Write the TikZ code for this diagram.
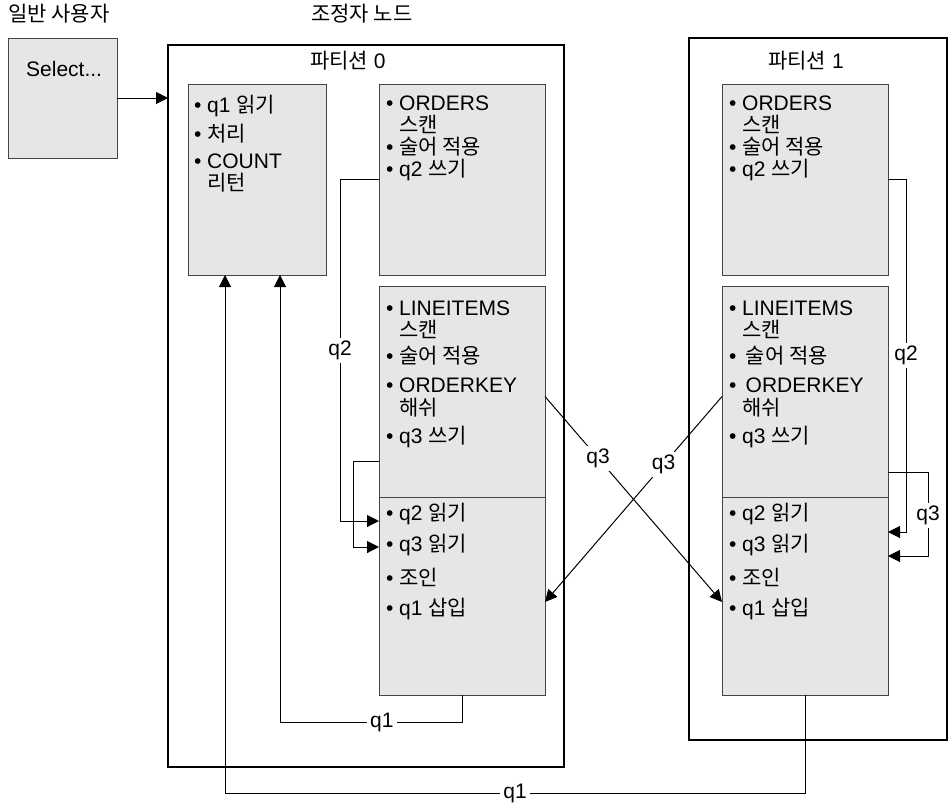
\documentclass[tikz,border=0pt]{standalone}
\usepackage{fontspec}
\setmainfont{Liberation Sans}
\newfontfamily\krfont{Noto Sans CJK KR}
\usetikzlibrary{arrows.meta,positioning}
\newcommand{\kr}[1]{{\krfont #1}}
\newcommand{\bul}{\makebox[13pt][l]{\textbullet}}
\newcommand{\ind}{\hspace*{13pt}}
\newcommand{\opfont}{\fontsize{21}{20}\selectfont\lineskiplimit=-50pt\relax}
\definecolor{boxgray}{HTML}{E6E6E6}
\definecolor{edgegray}{HTML}{444444}
\tikzset{
  partbox/.style={draw,line width=2pt,anchor=north west,inner sep=0pt,outer sep=0pt},
  opbox/.style={draw=edgegray,fill=boxgray,line width=1pt,anchor=north west,inner sep=0pt,outer sep=0pt},
  % multi-line text: anchored at the baseline of its last line
  optext/.style={anchor=base west,align=left,inner sep=0pt,font=\opfont},
  heading/.style={anchor=base west,inner sep=0pt,font=\opfont},
  flow/.style={draw,line width=1pt,-{Triangle[length=12pt,width=12pt]}},
  lbl/.style={fill=white,inner sep=3pt,font=\opfont},
}
\begin{document}
\begin{tikzpicture}[x=1pt,y=-1pt]
\useasboundingbox (0,0) rectangle (952,807);

% headings
\node[heading] (userhd) at (8,21) {\kr{일반 사용자}};
\node[heading] (coordhd) at (311,21) {\kr{조정자 노드}};

% partitions
\node[partbox,minimum width=396pt,minimum height=722pt] (part0) at (168,45) {};
\node[partbox,minimum width=258pt,minimum height=702pt] (part1) at (689,38) {};
\node[heading] (part0hd) at (310,68) {\kr{파티션} 0};
\node[heading] (part1hd) at (768,68) {\kr{파티션} 1};

% operator boxes
\node[opbox,minimum width=109pt,minimum height=120pt] (sel) at (8,38) {};
\node[opbox,minimum width=138pt,minimum height=191pt] (coord) at (188,84) {};
\node[opbox,minimum width=166pt,minimum height=191pt] (ord0) at (379,84) {};
\node[opbox,minimum width=166pt,minimum height=211pt] (line0) at (379,286) {};
\node[opbox,minimum width=166pt,minimum height=198pt] (join0) at (379,497) {};
\node[opbox,minimum width=166pt,minimum height=191pt] (ord1) at (722,84) {};
\node[opbox,minimum width=166pt,minimum height=211pt] (line1) at (722,286) {};
\node[opbox,minimum width=166pt,minimum height=198pt] (join1) at (722,497) {};

% box contents
\node[optext] (seltxt) at (26,76) {Select...};
\node[optext] (coordtxt) at (194,190) {\bul q1 \kr{읽기}\\[9pt]\bul\kr{처리}\\[7pt]\bul COUNT\\[2pt]\ind\kr{리턴}};
\node[optext] (ord0txt) at (386,176) {\bul ORDERS\\[2pt]\ind\kr{스캔}\\[2pt]\bul\kr{술어 적용}\\[2pt]\bul q2 \kr{쓰기}};
\node[optext] (line0txt) at (386,443) {\bul LINEITEMS\\[2pt]\ind\kr{스캔}\\[6pt]\bul\kr{술어 적용}\\[9pt]\bul ORDERKEY\\[3pt]\ind\kr{해쉬}\\[8pt]\bul q3 \kr{쓰기}};
\node[optext] (join0txt) at (386,615) {\bul q2 \kr{읽기}\\[11pt]\bul q3 \kr{읽기}\\[14pt]\bul\kr{조인}\\[10pt]\bul q1 \kr{삽입}};
\node[optext] (ord1txt) at (729,176) {\bul ORDERS\\[2pt]\ind\kr{스캔}\\[2pt]\bul\kr{술어 적용}\\[2pt]\bul q2 \kr{쓰기}};
\node[optext] (line1txt) at (729,443) {\bul LINEITEMS\\[2pt]\ind\kr{스캔}\\[6pt]\bul\,\kr{술어 적용}\\[9pt]\bul\,ORDERKEY\\[3pt]\ind\kr{해쉬}\\[8pt]\bul q3 \kr{쓰기}};
\node[optext] (join1txt) at (729,615) {\bul q2 \kr{읽기}\\[11pt]\bul q3 \kr{읽기}\\[14pt]\bul\kr{조인}\\[10pt]\bul q1 \kr{삽입}};

% query to coordinator
\draw[flow] (sel.east) -- (sel.east -| part0.west);

% local flows in partition 0
\draw[flow] (ord0.west) -- ++(-39,0) |- ([yshift=-24pt]join0.north west)
  node[lbl,pos=0.25] (q2a) {q2};
\draw[flow] ([yshift=36pt]line0.south west) -- ++(-26,0) |- ([yshift=-50pt]join0.north west);

% local flows in partition 1
\draw[flow] (ord1.east) -- ++(18,0) |- ([yshift=-35pt]join1.north east)
  node[lbl,pos=0.25] (q2b) {q2};
\draw[flow] ([yshift=25pt]line1.south east) -- ++(40,0) |- ([yshift=-59pt]join1.north east)
  node[lbl,pos=0.26] (q3c) {q3};

% q3 exchange between partitions
\draw[flow] ([yshift=-5pt]line0.east) -- ([yshift=-105pt]join1.north west)
  node[lbl,pos=0.3] (q3a) {q3};
\draw[flow] ([yshift=-5pt]line1.west) -- ([yshift=-105pt]join0.north east)
  node[lbl,pos=0.33] (q3b) {q3};

% q1 results back to coordinator
\draw[flow] (join0.south) -- ++(0,27) -| ([xshift=-46pt]coord.south east)
  node[lbl,pos=0.22] (q1a) {q1};
\draw[flow] (join1.south) -- ++(0,98) -| ([xshift=37pt]coord.south west)
  node[lbl,pos=0.25] (q1b) {q1};

\end{tikzpicture}
\end{document}
